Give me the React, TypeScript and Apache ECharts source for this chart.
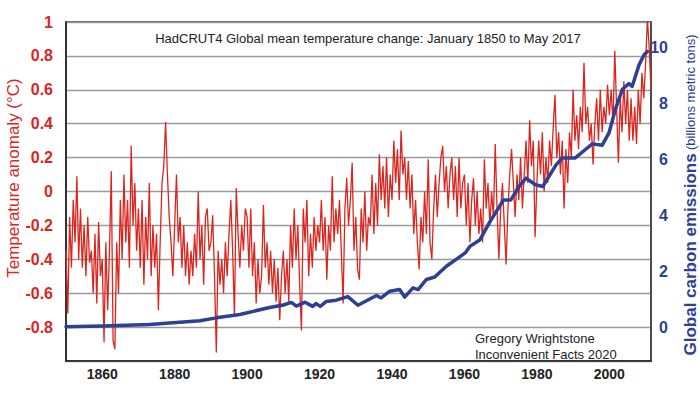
import React, { useEffect, useRef } from "react";
import * as echarts from "echarts";

// Temperature anomaly (°C), sampled every half year along the x axis, from 1850.0
const tempStartYear = 1850;
const tempStep = 0.5;
const tempValues: number[] = [
  // 1850s
  -0.35, -0.72, -0.15, -0.45, -0.05, -0.3, 0.09, -0.4, -0.1, -0.45,
  -0.2, -0.5, -0.15, -0.42, -0.35, -0.6, -0.25, -0.66, -0.18, -0.5,
  // 1860s
  -0.4, -0.89, -0.3, -0.7, -0.35, 0.12, -0.88, -0.93, -0.3, -0.6,
  -0.05, -0.4, 0.1, -0.3, -0.05, -0.45, 0.27, -0.2, 0.05, -0.35,
  // 1870s
  -0.1, -0.45, -0.05, -0.55, -0.15, -0.4, 0.05, -0.5, -0.2, -0.45,
  -0.25, -0.7, -0.3, 0.05, 0.15, 0.41, 0.1, -0.15, -0.3, -0.5,
  // 1880s
  -0.2, 0.1, -0.3, -0.15, -0.45, -0.2, -0.5, -0.3, -0.55, -0.35,
  -0.5, -0.25, -0.45, 0.0, -0.4, -0.2, -0.55, -0.15, -0.1, -0.35,
  // 1890s
  -0.3, -0.14, -0.5, -0.95, -0.35, -0.55, -0.4, -0.6, -0.3, -0.5,
  -0.25, -0.05, -0.35, -0.74, 0.02, -0.25, -0.45, -0.2, -0.35, -0.1,
  // 1900s
  -0.15, -0.45, -0.1, -0.5, -0.3, -0.66, -0.4, -0.6, -0.5, -0.08,
  -0.45, -0.3, -0.55, -0.35, -0.6, -0.4, -0.65, -0.45, -0.76, -0.5,
  // 1910s
  -0.35, -0.6, -0.4, -0.65, -0.2, -0.45, -0.1, -0.4, -0.2, -0.55,
  -0.82, -0.1, -0.3, -0.05, -0.5, -0.25, -0.45, -0.15, -0.35, -0.2,
  // 1920s
  -0.3, -0.05, -0.35, -0.15, -0.52, -0.2, -0.35, 0.09, -0.3, -0.1,
  -0.25, -0.05, -0.35, -0.66, -0.1, 0.08, -0.2, -0.05, 0.17, -0.35,
  // 1930s
  -0.15, -0.46, -0.52, -0.1, -0.3, 0.0, -0.35, -0.15, -0.2, 0.1,
  -0.25, 0.05, -0.2, 0.22, -0.05, 0.15, -0.1, 0.2, -0.15, 0.1,
  // 1940s
  -0.05, 0.3, 0.05, 0.25, -0.05, 0.36, 0.1, 0.2, -0.05, 0.18,
  -0.1, 0.1, -0.25, -0.05, -0.3, -0.46, -0.15, -0.3, 0.0, -0.25,
  // 1950s
  0.19, -0.3, -0.4, -0.1, 0.1, -0.15, 0.05, 0.2, 0.27, 0.0,
  0.15, -0.1, 0.1, 0.2, -0.05, 0.15, -0.15, 0.2, -0.1, 0.05,
  // 1960s
  0.1, -0.2, 0.05, -0.3, -0.05, 0.08, -0.2, 0.0, -0.25, -0.1,
  -0.3, 0.19, -0.1, 0.05, -0.2, 0.0, -0.15, 0.28, -0.1, -0.4,
  // 1970s
  -0.1, 0.05, -0.2, -0.43, -0.1, 0.1, 0.25, 0.05, -0.15, 0.1,
  -0.05, 0.2, -0.1, 0.1, 0.3, 0.05, 0.42, 0.15, 0.3, -0.27,
  // 1980s
  0.05, 0.3, 0.1, 0.35, 0.0, 0.2, 0.05, 0.3, 0.15, 0.38,
  0.57, 0.2, 0.35, 0.1, 0.3, -0.1, 0.25, 0.05, 0.35, 0.2,
  // 1990s
  0.6, 0.3, 0.45, 0.25, 0.5, 0.35, 0.76, 0.4, 0.5, 0.3,
  0.4, 0.16, 0.4, 0.55, 0.3, 0.6, 0.35, 0.5, 0.4, 0.63,
  // 2000s
  0.45, 0.6, 0.4, 0.83, 0.5, 0.17, 0.55, 0.35, 0.65, 0.4,
  0.6, 0.3, 0.55, 0.3, 0.5, 0.28, 0.6, 0.4, 0.7, 0.55,
  // 2010-2011.5
  0.75, 1.02, 0.85, 0.6,
];

// Global carbon emissions (billions metric tons)
const carbonYears: number[] = [
  1850, 1860, 1873, 1887, 1891.5, 1898, 1906.2, 1910, 1912.2, 1913.6,
  1916, 1918.1, 1919, 1920.2, 1921.8, 1924.6, 1927.8, 1930.6, 1935.7, 1937,
  1939.4, 1942.1, 1943.5, 1945.8, 1947.2, 1949.5, 1951.8, 1955, 1958.3, 1960.3,
  1961.5, 1964.3, 1966.8, 1970.8, 1972.8, 1975.1, 1977, 1979.6, 1981.6, 1985.3,
  1987, 1990.6, 1993.4, 1995.3, 1998, 1999.9, 2001.7, 2003.6, 2005.4, 2006.3,
  2008.2, 2009.6, 2010.5,
];
const carbonValues: number[] = [
  0.02, 0.05, 0.1, 0.24, 0.34, 0.46, 0.71, 0.8, 0.89, 0.76,
  0.9, 0.75, 0.85, 0.75, 0.92, 0.97, 1.1, 0.79, 1.14, 1.05,
  1.29, 1.35, 1.08, 1.41, 1.35, 1.71, 1.8, 2.18, 2.48, 2.67,
  2.89, 3.13, 3.72, 4.55, 4.55, 5.03, 5.33, 5.09, 5.03, 5.8,
  6.05, 6.05, 6.35, 6.55, 6.5, 6.94, 7.8, 8.5, 8.7, 8.6,
  9.37, 9.73, 9.85,
];

const xLabelYears: number[] = [1860, 1880, 1900, 1920, 1940, 1960, 1980, 2000];
const carbonTicks: number[] = [0, 2, 4, 6, 8, 10];

const RED = "#d9261f";
const BLUE = "#2f3f94";

export default function App() {
  const ref = useRef<HTMLDivElement>(null);

  useEffect(() => {
    if (!ref.current) return;
    const chart = echarts.init(ref.current, null, { renderer: "svg" });
    const tempData = tempValues.map((v, i) => [tempStartYear + i * tempStep, v]);
    const carbonData = carbonYears.map((y, i) => [y, carbonValues[i]]);
    const font = "Liberation Sans, Arial, sans-serif";

    chart.setOption({
      animation: false,
      backgroundColor: "#ffffff",
      textStyle: { fontFamily: font },
      grid: {
        left: 66,
        right: 49,
        top: 22,
        bottom: 33,
        show: true,
        borderColor: "#333",
        borderWidth: 1.5,
        backgroundColor: "transparent",
      },
      xAxis: {
        type: "value",
        min: 1850,
        max: 2011.5,
        axisLine: { show: true, onZero: false, lineStyle: { color: "#222", width: 1.5 } },
        axisTick: { show: false },
        splitLine: { show: false },
        axisLabel: {
          customValues: xLabelYears,
          formatter: (v: number) => String(Math.round(v)),
          color: "#222",
          fontWeight: "bold",
          fontSize: 14,
          fontFamily: font,
          margin: 6,
        },
      },
      yAxis: [
        {
          type: "value",
          min: -1,
          max: 1,
          interval: 0.2,
          position: "left",
          axisLine: { show: true, lineStyle: { color: "#222", width: 1.5 } },
          axisTick: { show: false },
          splitLine: { show: true, lineStyle: { color: "#9a9a9a", width: 1.3 } },
          axisLabel: {
            color: RED,
            fontWeight: "bold",
            fontSize: 16,
            fontFamily: font,
            margin: 13,
            formatter: (v: number) => {
              const r = Math.round(v * 10) / 10;
              if (r <= -1) return "";
              return String(r === 0 ? 0 : r);
            },
          },
        },
        {
          type: "value",
          min: -1.2,
          max: 10.9,
          position: "right",
          axisLine: { show: true, lineStyle: { color: "#444", width: 1.5 } },
          axisTick: { show: false },
          splitLine: { show: false },
          axisLabel: {
            customValues: carbonTicks,
            color: BLUE,
            fontWeight: "bold",
            fontSize: 16,
            fontFamily: font,
            align: "right",
            margin: 17,
          },
        },
      ],
      series: [
        {
          type: "line",
          data: tempData,
          yAxisIndex: 0,
          showSymbol: false,
          symbol: "none",
          lineStyle: { color: RED, width: 1.3 },
          z: 2,
        },
        {
          type: "line",
          data: carbonData,
          yAxisIndex: 1,
          showSymbol: false,
          symbol: "none",
          lineStyle: { color: BLUE, width: 3.5, join: "round", cap: "round" },
          z: 3,
        },
      ],
      graphic: [
        {
          type: "text",
          x: 368,
          y: 38,
          style: {
            text: "HadCRUT4 Global mean temperature change: January 1850 to May 2017",
            fill: "#222",
            font: `13px ${font}`,
            textAlign: "center",
            textVerticalAlign: "middle",
          },
        },
        {
          type: "text",
          x: 475,
          y: 338,
          style: {
            text: "Gregory Wrightstone",
            fill: "#222",
            font: `13px ${font}`,
            textAlign: "left",
            textVerticalAlign: "middle",
          },
        },
        {
          type: "text",
          x: 475,
          y: 354,
          style: {
            text: "Inconvenient Facts 2020",
            fill: "#222",
            font: `13px ${font}`,
            textAlign: "left",
            textVerticalAlign: "middle",
          },
        },
        {
          type: "text",
          x: 13,
          y: 178,
          rotation: Math.PI / 2,
          style: {
            text: "Temperature anomaly (°C)",
            fill: RED,
            font: `17px ${font}`,
            textAlign: "center",
            textVerticalAlign: "middle",
          },
        },
        {
          type: "text",
          x: 690,
          y: 195,
          rotation: Math.PI / 2,
          style: {
            text: "{a|Global carbon emissions} {b|(billions metric tons)}",
            textAlign: "center",
            textVerticalAlign: "middle",
            rich: {
              a: { fill: BLUE, fontWeight: "bold", fontSize: 17, fontFamily: font },
              b: { fill: BLUE, fontSize: 13, fontFamily: font },
            },
          },
        },
      ],
    });

    return () => chart.dispose();
  }, []);

  return (
    <div
      ref={ref}
      style={{ position: "fixed", left: 0, top: 0, width: 700, height: 394, background: "#fff" }}
    />
  );
}
